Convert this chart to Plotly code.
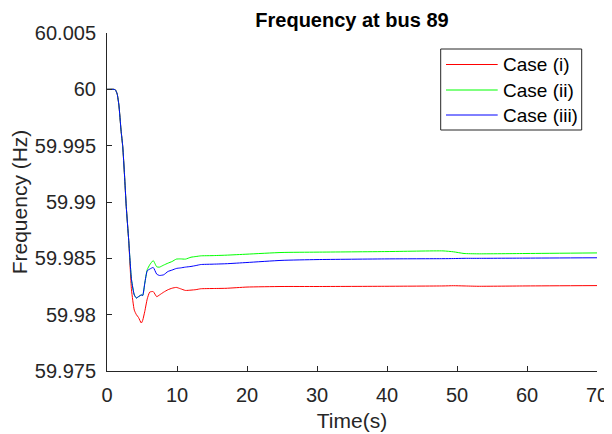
import plotly.graph_objects as go

# time (s)
t = [0, 1.0, 1.2, 1.45, 1.7, 2.0, 2.25, 2.5, 2.75, 3.1, 3.5, 3.9, 4.2, 4.5, 4.9, 5.1, 5.4, 5.75,
     6.1, 6.6, 7.1, 7.5, 8.1, 8.7, 9.3, 9.9, 10.5, 11.2, 12.0, 12.7, 13.4, 15, 17, 20, 25, 30,
     40, 48, 49.5, 51, 53, 60, 70]

case_i = [60, 60, 59.99995, 59.9996, 59.9986, 59.9964, 59.9949, 59.9924, 59.9896, 59.9866,
          59.9822, 59.9804, 59.9800, 59.97975, 59.97926, 59.9795, 59.9803, 59.9814,
          59.9820, 59.98205, 59.9816, 59.98175, 59.9820, 59.98221, 59.98235, 59.98242,
          59.9823, 59.98215, 59.98218, 59.98222, 59.9823, 59.98232, 59.98234, 59.98245,
          59.9825, 59.9825, 59.98252, 59.98255, 59.98257, 59.98255, 59.98252, 59.98255, 59.98258]

case_ii = [60, 60, 59.99995, 59.9996, 59.9986, 59.9964, 59.9949, 59.9924, 59.9896, 59.9866,
           59.9831, 59.98175, 59.98148, 59.9816, 59.98175, 59.9817, 59.9828, 59.9840,
           59.98442, 59.9848, 59.98425, 59.98422, 59.9844, 59.98457, 59.98472, 59.98493,
           59.98495, 59.98493, 59.9851, 59.98516, 59.98522, 59.98524, 59.98528, 59.98537,
           59.98552, 59.98555, 59.9856, 59.98566, 59.98558, 59.98543, 59.9854, 59.98543, 59.98548]

case_iii = [60, 60, 59.99995, 59.9996, 59.9986, 59.9964, 59.9949, 59.9924, 59.9896, 59.9866,
            59.9831, 59.98175, 59.98148, 59.9816, 59.98175, 59.9817, 59.9828, 59.9839,
            59.98404, 59.98419, 59.9836, 59.98348, 59.98354, 59.98383, 59.98396, 59.9841,
            59.98415, 59.98422, 59.98428, 59.98436, 59.98445, 59.98448, 59.98452, 59.98463,
            59.98482, 59.98489, 59.98495, 59.98497, 59.98498, 59.985, 59.985, 59.98502, 59.98505]

series_names = ["Case (i)", "Case (ii)", "Case (iii)"]
series_colors = ["#ff0000", "#00ff00", "#0000ff"]

y_tickvals = [59.975, 59.98, 59.985, 59.99, 59.995, 60, 60.005]
y_ticktext = ["59.975", "59.98", "59.985", "59.99", "59.995", "60", "60.005"]
x_tickvals = [0, 10, 20, 30, 40, 50, 60, 70]

FONT = "Liberation Sans, Arial, sans-serif"
AX = "#262626"

# the page body has an 8px margin, so the figure is sized to the visible area
W, H = 604, 426
ML, MR, MT, MB = 99, 15, 25, 63
PW, PH = W - ML - MR, H - MT - MB


def px_x(p):  # figure pixel -> paper x
    return (p - ML) / PW


def px_y(p):  # figure pixel -> paper y
    return (H - MB - p) / PH


fig = go.Figure()
for name, vals, col in zip(series_names, [case_i, case_ii, case_iii], series_colors):
    fig.add_trace(go.Scatter(x=t, y=vals, mode="lines", name=name, showlegend=False,
                             line=dict(color=col, width=1, shape="spline", smoothing=0.5)))

# legend box drawn by hand (MATLAB style)
shapes = [dict(type="rect", xref="paper", yref="paper",
               x0=px_x(432.7), x1=px_x(573.7), y0=px_y(122), y1=px_y(41),
               line=dict(color=AX, width=1), fillcolor="white", layer="above")]
annotations = []
leg_rows = [56.5, 82, 107]
for name, col, ry in zip(series_names, series_colors, leg_rows):
    shapes.append(dict(type="line", xref="paper", yref="paper",
                       x0=px_x(438), x1=px_x(489.7), y0=px_y(ry), y1=px_y(ry),
                       line=dict(color=col, width=1), layer="above"))
    annotations.append(dict(text=name, xref="paper", yref="paper", x=px_x(493), y=px_y(ry),
                            xanchor="left", yanchor="middle", showarrow=False,
                            font=dict(size=19, color="black", family=FONT)))

fig.update_layout(
    width=W, height=H,
    margin=dict(l=ML, r=MR, t=MT, b=MB, autoexpand=False),
    paper_bgcolor="white", plot_bgcolor="white",
    font=dict(family=FONT, color=AX),
    title=dict(text="Frequency at bus 89", x=(ML + W - MR) / 2 / W, xanchor="center",
               y=1 - 12 / H, yanchor="middle", yref="container", pad=dict(t=0, b=0),
               font=dict(size=20, color="black", weight="bold", family=FONT)),
    showlegend=False,
    shapes=shapes,
    annotations=annotations,
    xaxis=dict(range=[0, 70], tickvals=x_tickvals, showgrid=False, zeroline=False,
               automargin=False,
               showline=True, linecolor=AX, linewidth=1, ticks="inside", ticklen=5,
               tickcolor=AX, tickfont=dict(size=20, color=AX), ticklabelstandoff=6,
               title=dict(text="Time(s)", font=dict(size=21, color=AX), standoff=8)),
    yaxis=dict(range=[59.975, 60.005], tickvals=y_tickvals, ticktext=y_ticktext,
               showgrid=False, zeroline=False, automargin=False,
               showline=True, linecolor=AX, linewidth=1, ticks="inside", ticklen=5,
               tickcolor=AX, tickfont=dict(size=20, color=AX), ticklabelstandoff=6,
               title=dict(text="Frequency (Hz)", font=dict(size=21, color=AX), standoff=9)),
)

fig.write_html("out.html")
